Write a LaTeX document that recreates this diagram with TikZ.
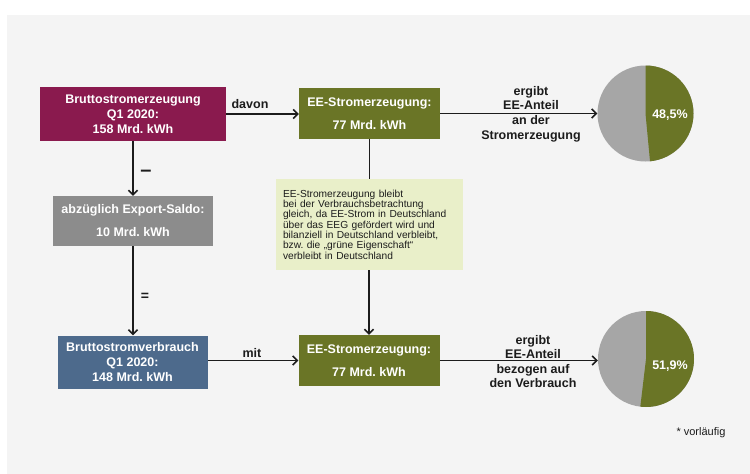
\documentclass[tikz,border=0pt]{standalone}
\usepackage{fontspec}
\setmainfont{Liberation Sans}
\usetikzlibrary{arrows.meta}
\frenchspacing
\definecolor{bg}{HTML}{F4F4F4}
\definecolor{magentabox}{HTML}{8A1A4E}
\definecolor{olivebox}{HTML}{6A7526}
\definecolor{greybox}{HTML}{8C8C8C}
\definecolor{bluebox}{HTML}{4D6A8C}
\definecolor{notebox}{HTML}{E9EFC9}
\definecolor{piegrey}{HTML}{A6A6A6}
\definecolor{linecol}{HTML}{1C1C1C}
\tikzset{
  box/.style={rectangle, inner sep=2pt, text=white, align=center,
    font=\fontsize{12.5}{15}\selectfont\bfseries},
  lbl/.style={inner sep=1pt, align=center, text=linecol,
    font=\fontsize{12.5}{14.6}\selectfont\bfseries},
  arr/.style={draw=linecol, line width=1.6pt, -{Straight Barb[length=4.5pt,width=9pt,line width=1.6pt]}},
  plain/.style={draw=linecol, line width=1.6pt},
  pie/.style={circle, fill=piegrey, minimum size=96, inner sep=0pt},
}
\begin{document}
\begin{tikzpicture}[x=1pt,y=-1pt]
\useasboundingbox (0,0) rectangle (750,474);
\fill[bg] (0,0) rectangle (750,474);
\fill[white] (0,0) rectangle (750,15);
\fill[white] (0,0) rectangle (7,474);

% boxes
\node[box, fill=magentabox, minimum width=186, minimum height=54] (b1) at (133,114)
  {Bruttostromerzeugung\\Q1 2020:\\158 Mrd. kWh};
\node[box, fill=olivebox, minimum width=141, minimum height=51] (ee1) at (369.5,113.5)
  {EE-Stromerzeugung:\\[7.5pt]77 Mrd. kWh};
\node[box, fill=greybox, minimum width=160, minimum height=50] (ex) at (133,221)
  {abzüglich Export-Saldo:\\[8pt]10 Mrd. kWh};
\node[rectangle, fill=notebox, text width=173, inner xsep=7, inner ysep=2,
  minimum height=91, align=left, text=linecol,
  font=\fontsize{10.2}{10.3}\selectfont] (note) at (369.5,224.5)
  {EE-Stromerzeugung bleibt\\bei der Verbrauchsbetrachtung\\gleich, da EE-Strom in Deutschland\\über das EEG gefördert wird und\\bilanziell in Deutschland verbleibt,\\bzw. die „grüne Eigenschaft“\\verbleibt in Deutschland};
\node[box, fill=bluebox, minimum width=150, minimum height=53] (bv) at (132.5,362)
  {Bruttostromverbrauch\\Q1 2020:\\148 Mrd. kWh};
\node[box, fill=olivebox, minimum width=141, minimum height=51] (ee2) at (369,360.5)
  {EE-Stromerzeugung:\\[7.5pt]77 Mrd. kWh};

% pies
\node[pie] (p1) at (645.5,113.5) {};
\fill[olivebox] (p1.center) -- ++(-90:48) arc[start angle=-90, end angle=84.6, radius=48] -- cycle;
\node[text=white, font=\fontsize{12.5}{15}\selectfont\bfseries] (p1l) at (670,115) {48,5\%};
\node[pie] (p2) at (646,359) {};
\fill[olivebox] (p2.center) -- ++(-90:48) arc[start angle=-90, end angle=96.8, radius=48] -- cycle;
\node[text=white, font=\fontsize{12.5}{15}\selectfont\bfseries] (p2l) at (670,366) {51,9\%};

% connectors
\draw[arr] (b1.east) -- (b1.east -| ee1.west);
\draw[arr] (b1.south) -- (ex.north);
\draw[arr] (ex.south) -- (ex.south |- bv.north);
\draw[plain] (ee1.south) -- (ee1.south |- note.north);
\draw[arr] (note.south -| ee2.north) -- (ee2.north);
\draw[arr] (ee2.west -| bv.east) -- (ee2.west);
\draw[arr] (ee1.east) -- (ee1.east -| p1.west);
\draw[arr] (ee2.east) -- (ee2.east -| p2.west);

% labels
\node[lbl] (davon) at (250,104) {davon};
\node[lbl, font=\fontsize{20}{20}\selectfont\bfseries] (minus) at (146,173.5) {–};
\node[lbl, font=\fontsize{14}{15}\selectfont\bfseries] (eq) at (145,297) {=};
\node[lbl] (mit) at (252,353) {mit};
\node[lbl] (erg1) at (531,114) {ergibt\\EE-Anteil\\an der\\Stromerzeugung};
\node[lbl] (erg2) at (533,361.5) {ergibt\\EE-Anteil\\bezogen auf\\den Verbrauch};
\node[text=linecol, inner sep=1pt, font=\fontsize{11}{13}\selectfont] (vorl) at (701,433) {* vorläufig};
\end{tikzpicture}
\end{document}
